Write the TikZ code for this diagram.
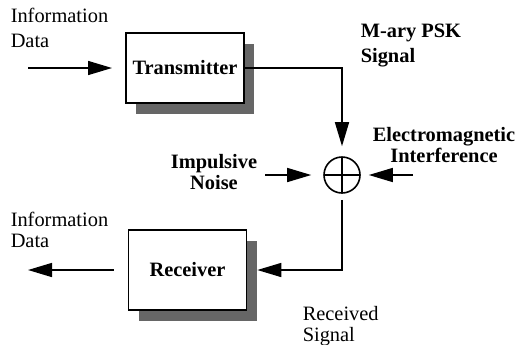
\documentclass[tikz,border=0pt]{standalone}
\usepackage{fontspec}
\setmainfont{Liberation Serif}
\usetikzlibrary{arrows.meta,shadows}

\begin{document}
\begin{tikzpicture}[x=0.5pt, y=-0.5pt, line width=0.75pt,
	every node/.style={font=\fontsize{10.2pt}{10.5pt}\selectfont},
	>={Triangle[length=12pt, width=7pt]},
	block/.style={draw, line width=0.8pt, fill=white, minimum width=59pt, font=\fontsize{10.2pt}{10.5pt}\selectfont\bfseries,
		drop shadow={shadow xshift=5pt, shadow yshift=-5.5pt, fill=black!60, opacity=1}},
	lbl/.style={align=left, inner sep=0pt},
	blbl/.style={align=center, inner sep=0pt, font=\fontsize{10.2pt}{10.5pt}\selectfont\bfseries}]
	\useasboundingbox (0,0) rectangle (518,344);
	% blocks
	\node[block, minimum height=35pt] (tx) at (185,68) {Transmitter};
	\node[block, minimum height=40pt] (rx) at (187.5,270) {Receiver};
	\node[draw, circle, line width=0.8pt, minimum size=18pt, inner sep=0pt] (sum) at (342,175) {};
	\draw[line width=0.8pt] ([yshift=-1pt]sum.north) -- ([yshift=1pt]sum.south) ([xshift=1pt]sum.west) -- ([xshift=-1pt]sum.east);
	% labels
	\node[lbl, anchor=west] (datain) at (10,28) {Information\\[2pt]Data};
	\node[lbl, anchor=west] (dataout) at (10,230) {Information\\Data};
	\node[lbl, anchor=west, font=\fontsize{10.2pt}{10.5pt}\selectfont\bfseries] (mpsk) at (360,45) {M-ary PSK\\[2pt]Signal};
	\node[lbl, anchor=west] (rsig) at (302,326) {Received\\Signal};
	\node[blbl] (noise) at (214,172) {Impulsive\\Noise};
	\node[blbl] (emi) at (444,145) {Electromagnetic\\Interference};
	\coordinate (inA) at (28,68);
	\coordinate (inB) at (112,68);
	\coordinate (outB) at (28,270);
	\coordinate (noiseA) at (265,175);
	\coordinate (emiA) at (413,175);
	% connectors
	\draw[->] (inA) -- (inB);
	\draw[->, shorten >=5pt] (tx.east) -| (sum.north);
	\draw[->, shorten >=6pt] (noiseA) -- (sum.west);
	\draw[->, shorten >=4pt] (emiA) -- (sum.east);
	\draw[->, shorten <=3pt, shorten >=5pt] (sum.south) |- (rx.east);
	\draw[->, shorten <=7pt] (rx.west) -- (outB);
\end{tikzpicture}
\end{document}
